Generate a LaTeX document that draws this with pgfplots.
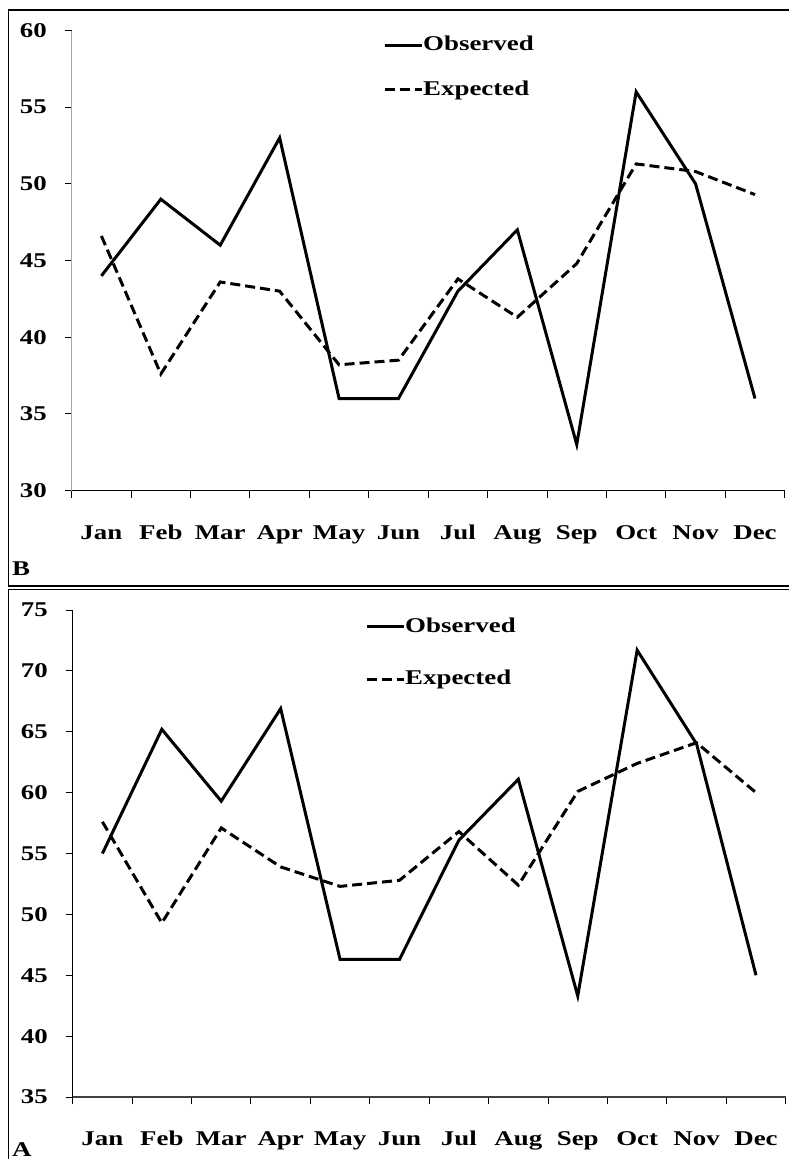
\documentclass[border=0pt]{standalone}
\usepackage{pgfplots}
\usepackage{pgfplotstable}
\pgfplotsset{compat=1.18}
\usepackage{fontspec}
\setmainfont{Liberation Serif}[FakeStretch=1.28]
\newcommand{\lblfont}{\fontsize{21pt}{24pt}\selectfont\bfseries}

\pgfplotstableread{
m obsB expB obsA expA
0 44 46.6 55 57.6
1 49 37.6 65.2 49.3
2 46 43.6 59.3 57.1
3 53 43.0 66.9 53.9
4 36 38.2 46.3 52.3
5 36 38.5 46.3 52.8
6 43 43.8 56.1 56.8
7 47 41.3 61.1 52.4
8 33 44.8 43.3 60.1
9 56 51.3 71.7 62.4
10 50 50.8 64 64.1
11 36 49.3 45 60.0
}\data

\pgfplotsset{
  panel/.style={
    scale only axis, width=713pt,
    xmin=-0.5, xmax=11.5,
    axis x line*=bottom, axis y line*=left,
    axis line style={-},
    tick align=outside,
    major tick length=7pt,
    xtick={-0.5,0.5,...,11.5}, xticklabels={},
    extra x ticks={0,1,2,3,4,5,6,7,8,9,10,11},
    extra x tick labels={Jan,Feb,Mar,Apr,May,Jun,Jul,Aug,Sep,Oct,Nov,Dec},
    extra x tick style={major tick length=0pt},
    tick style={black, line width=1pt},
    /pgf/number format/assume math mode=true,
    tick label style={font=\lblfont},
    xticklabel style={anchor=base, inner sep=0pt, yshift=-48.5pt},
    yticklabel style={anchor=east, inner sep=0pt, xshift=-17.7pt},
    legend image code/.code={\draw[##1] (0pt,0.52em) -- (37pt,0.52em);},
    legend cell align=left,
    legend style={draw=none, fill=none, font=\lblfont, inner sep=0pt,
      nodes={inner sep=0pt, anchor=base west}, anchor=north west},
    clip=false,
  },
  obs/.style={black, line width=3pt, line join=miter},
  expd/.style={black, line width=3pt, dash pattern=on 10pt off 5pt, line join=miter},
}

\begin{document}
\begin{tikzpicture}
\useasboundingbox (0pt,0pt) rectangle (788pt,-1159pt);
% frames
\draw[line width=1.3pt] (8.3pt,-1162pt) -- (8.3pt,-589.5pt);
\draw[line width=1.3pt] (8.3pt,-586.3pt) -- (8.3pt,-10pt) -- (792pt,-10pt);
\draw[line width=2pt] (7.6pt,-586.3pt) -- (792pt,-586.3pt);
\draw[line width=1pt] (7.6pt,-589.5pt) -- (792pt,-589.5pt);
\node[font=\lblfont, anchor=base west, inner sep=0pt] at (12pt,-575pt) {B};
\node[font=\lblfont, anchor=base west, inner sep=0pt] at (12pt,-1156pt) {A};

% Panel B (top)
\begin{axis}[panel,
  at={(71.7pt,-490.5pt)}, anchor=south west,
  height=460pt, ymin=30, ymax=60, ytick={30,35,...,60},
  x axis line style={black, line width=1.8pt},
  y axis line style={gray!70, line width=1pt},
  legend style={at={(0.4366,0.9887)}, row sep=28.6pt},
]
\addplot[obs] table[x=m, y=obsB] {\data};
\addlegendentry{Observed}
\addplot[expd] table[x=m, y=expB] {\data};
\addlegendentry{Expected}
\end{axis}

% Panel A (bottom)
\begin{axis}[panel,
  at={(72.7pt,-1097pt)}, anchor=south west,
  height=487pt, ymin=35, ymax=75, ytick={35,40,...,75},
  x axis line style={black!75, line width=1.5pt},
  y axis line style={black, line width=1.5pt},
  legend style={at={(0.41,0.9848)}, row sep=36.2pt},
]
\addplot[obs] table[x=m, y=obsA] {\data};
\addlegendentry{Observed}
\addplot[expd] table[x=m, y=expA] {\data};
\addlegendentry{Expected}
\end{axis}
\end{tikzpicture}
\end{document}
